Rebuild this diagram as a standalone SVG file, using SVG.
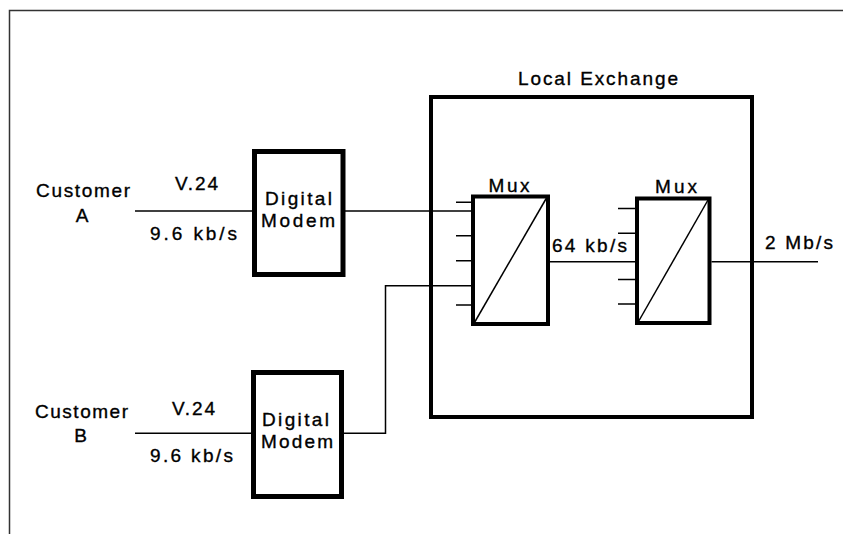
<svg xmlns="http://www.w3.org/2000/svg" width="843" height="534" viewBox="0 0 843 534">
<style>
text{font-family:"Liberation Sans",Arial,sans-serif;font-size:19px;fill:#000;stroke:#000;stroke-width:0.35;text-anchor:middle}
.box{fill:#fff;stroke:#000}
.ln{fill:none;stroke:#000;stroke-width:1.5}
.frame{fill:none;stroke:#333;stroke-width:1.5}
</style>
<rect width="843" height="534" fill="#fff"/>
<path class="frame" d="M9.5,534 V10.5 H843"/>
<g id="exchange">
<rect class="box" x="431" y="97" width="321" height="320" stroke-width="4"/>
<text x="598" y="85" textLength="160" lengthAdjust="spacing">Local Exchange</text>
</g>
<g id="customerA">
<text x="83" y="197" textLength="94" lengthAdjust="spacing">Customer</text>
<text x="82" y="222">A</text>
</g>
<g id="customerB">
<text x="81.5" y="418" textLength="93" lengthAdjust="spacing">Customer</text>
<text x="80.5" y="442">B</text>
</g>
<g id="modemA">
<rect class="box" x="254.5" y="151.5" width="88.5" height="123" stroke-width="5"/>
<text x="298.5" y="205" textLength="67" lengthAdjust="spacing">Digital</text>
<text x="298" y="227" textLength="74" lengthAdjust="spacing">Modem</text>
</g>
<g id="modemB">
<rect class="box" x="253.5" y="372.5" width="88" height="124" stroke-width="5"/>
<text x="295.5" y="426" textLength="67" lengthAdjust="spacing">Digital</text>
<text x="297" y="448" textLength="72" lengthAdjust="spacing">Modem</text>
</g>
<g id="mux1">
<rect class="box" x="473" y="196.5" width="75" height="127.5" stroke-width="4"/>
<path class="ln" d="M474.5,322.5 L546.5,198"/>
<path class="ln" d="M456,202.3 H473 M456,235.7 H473 M456,260.7 H473 M456,305 H473"/>
<text x="509" y="191.7" textLength="41" lengthAdjust="spacing">Mux</text>
</g>
<g id="mux2">
<rect class="box" x="637" y="198.5" width="72.5" height="124.5" stroke-width="4"/>
<path class="ln" d="M638.5,321.5 L708,200"/>
<path class="ln" d="M618,208.5 H637 M618,233.3 H637 M618,279.5 H637 M618,304 H637"/>
<text x="676" y="192.7" textLength="42" lengthAdjust="spacing">Mux</text>
</g>
<g id="connectors">
<path class="ln" d="M135,211 H254"/>
<path class="ln" d="M135,433.3 H253"/>
<path class="ln" d="M345,211 H473"/>
<path class="ln" d="M344,433.3 H385.5 V285.7 H473"/>
<path class="ln" d="M550,261.7 H637"/>
<path class="ln" d="M711.5,261.7 H818"/>
</g>
<g id="labels">
<text x="196.5" y="190" textLength="43" lengthAdjust="spacing">V.24</text>
<text x="193.5" y="240" textLength="87" lengthAdjust="spacing">9.6 kb/s</text>
<text x="193.5" y="415" textLength="43" lengthAdjust="spacing">V.24</text>
<text x="191.5" y="461.7" textLength="83" lengthAdjust="spacing">9.6 kb/s</text>
<text x="589.5" y="252" textLength="75" lengthAdjust="spacing">64 kb/s</text>
<text x="799" y="249" textLength="68" lengthAdjust="spacing">2 Mb/s</text>
</g>
</svg>
